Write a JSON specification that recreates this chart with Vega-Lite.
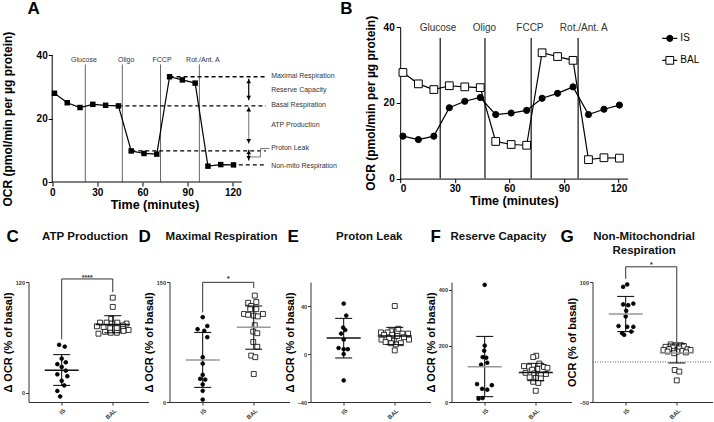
{
"$schema":"https://vega.github.io/schema/vega-lite/v6.json",
"padding":{"left":0.5,"top":0,"right":0,"bottom":0},
"background":"white",
"config":{
 "font":"Liberation Sans",
 "view":{"stroke":null},
 "axis":{"grid":false,"domainColor":"#000","domainWidth":1,"tickColor":"#000","tickWidth":1,"labelColor":"#000","titleColor":"#000","labelFontWeight":"bold","titleFontWeight":"bold","labelFontSize":10,"titleFontSize":12,"tickSize":4,"labelPadding":1,"titlePadding":3}
},
"datasets":{
 "ts":[
  {"t":1.5,"s":"IS","v":11.2},{"t":10,"s":"IS","v":10.3},{"t":18.5,"s":"IS","v":11.2},{"t":27,"s":"IS","v":18.7},{"t":35.5,"s":"IS","v":20.4},{"t":44,"s":"IS","v":21.4},{"t":52.5,"s":"IS","v":16.9},{"t":61,"s":"IS","v":17.3},{"t":69.5,"s":"IS","v":18.0},{"t":78,"s":"IS","v":21.2},{"t":86.5,"s":"IS","v":22.5},{"t":95,"s":"IS","v":24.2},{"t":103.5,"s":"IS","v":16.9},{"t":112,"s":"IS","v":18.3},{"t":120.5,"s":"IS","v":19.4},
  {"t":1.5,"s":"BAL","v":28},{"t":10,"s":"BAL","v":25},{"t":18.5,"s":"BAL","v":23.5},{"t":27,"s":"BAL","v":24.5},{"t":35.5,"s":"BAL","v":24.2},{"t":44,"s":"BAL","v":24},{"t":52.5,"s":"BAL","v":9.8},{"t":61,"s":"BAL","v":9.0},{"t":69.5,"s":"BAL","v":8.8},{"t":78,"s":"BAL","v":33.2},{"t":86.5,"s":"BAL","v":32.2},{"t":95,"s":"BAL","v":31.2},{"t":103.5,"s":"BAL","v":5.0},{"t":112,"s":"BAL","v":5.5},{"t":120.5,"s":"BAL","v":5.4}
 ],
 "inj":[
  {"name":"Glucose","t":22,"la":21.1,"lb":20.8},
  {"name":"Oligo","t":46.6,"la":49.2,"lb":46.3},
  {"name":"FCCP","t":72,"la":73,"lb":71.3},
  {"name":"Rot./Ant. A","t":97.8,"la":100.1,"lb":100.9}
 ],
 "pts":[
  {"p":"C","g":"IS","x":0.95,"v":52},{"p":"C","g":"IS","x":1.06,"v":50},{"p":"C","g":"IS","x":1.0,"v":37},{"p":"C","g":"IS","x":1.08,"v":33},{"p":"C","g":"IS","x":0.915,"v":31},{"p":"C","g":"IS","x":1.0,"v":28},{"p":"C","g":"IS","x":1.08,"v":24},{"p":"C","g":"IS","x":0.915,"v":20},{"p":"C","g":"IS","x":1.11,"v":18},{"p":"C","g":"IS","x":1.0,"v":13},{"p":"C","g":"IS","x":1.05,"v":8},{"p":"C","g":"IS","x":0.915,"v":2},{"p":"C","g":"IS","x":0.97,"v":-4},
  {"p":"C","g":"BAL","x":2.0,"v":103},{"p":"C","g":"BAL","x":2.0,"v":93},{"p":"C","g":"BAL","x":1.97,"v":80},{"p":"C","g":"BAL","x":1.75,"v":76},{"p":"C","g":"BAL","x":1.88,"v":76},{"p":"C","g":"BAL","x":2.09,"v":76},{"p":"C","g":"BAL","x":1.98,"v":75},{"p":"C","g":"BAL","x":2.27,"v":75},{"p":"C","g":"BAL","x":2.2,"v":73},{"p":"C","g":"BAL","x":1.69,"v":72},{"p":"C","g":"BAL","x":1.82,"v":71},{"p":"C","g":"BAL","x":1.95,"v":70},{"p":"C","g":"BAL","x":2.08,"v":70},{"p":"C","g":"BAL","x":2.2,"v":69},{"p":"C","g":"BAL","x":2.31,"v":68},{"p":"C","g":"BAL","x":1.85,"v":66},{"p":"C","g":"BAL","x":1.96,"v":65},{"p":"C","g":"BAL","x":2.08,"v":65},{"p":"C","g":"BAL","x":1.72,"v":64},{"p":"C","g":"BAL","x":2.21,"v":67},
  {"p":"D","g":"IS","x":1.0,"v":106},{"p":"D","g":"IS","x":1.09,"v":95},{"p":"D","g":"IS","x":0.9,"v":91},{"p":"D","g":"IS","x":1.03,"v":89},{"p":"D","g":"IS","x":1.09,"v":81},{"p":"D","g":"IS","x":1.0,"v":56},{"p":"D","g":"IS","x":1.0,"v":48},{"p":"D","g":"IS","x":1.0,"v":34},{"p":"D","g":"IS","x":0.95,"v":29},{"p":"D","g":"IS","x":1.05,"v":28},{"p":"D","g":"IS","x":1.0,"v":22},{"p":"D","g":"IS","x":1.0,"v":14},{"p":"D","g":"IS","x":1.0,"v":3},
  {"p":"D","g":"BAL","x":2.02,"v":133},{"p":"D","g":"BAL","x":2.05,"v":125},{"p":"D","g":"BAL","x":1.89,"v":124},{"p":"D","g":"BAL","x":1.95,"v":120},{"p":"D","g":"BAL","x":1.93,"v":116},{"p":"D","g":"BAL","x":2.05,"v":116},{"p":"D","g":"BAL","x":1.81,"v":110},{"p":"D","g":"BAL","x":1.89,"v":109},{"p":"D","g":"BAL","x":2.0,"v":108},{"p":"D","g":"BAL","x":2.08,"v":107},{"p":"D","g":"BAL","x":2.18,"v":110},{"p":"D","g":"BAL","x":2.02,"v":96},{"p":"D","g":"BAL","x":1.99,"v":88},{"p":"D","g":"BAL","x":2.07,"v":86},{"p":"D","g":"BAL","x":1.99,"v":75},{"p":"D","g":"BAL","x":2.07,"v":69},{"p":"D","g":"BAL","x":1.95,"v":58},{"p":"D","g":"BAL","x":2.03,"v":56},{"p":"D","g":"BAL","x":2.0,"v":35},
  {"p":"E","g":"IS","x":1.0,"v":42},{"p":"E","g":"IS","x":1.05,"v":32},{"p":"E","g":"IS","x":0.99,"v":22},{"p":"E","g":"IS","x":1.03,"v":20},{"p":"E","g":"IS","x":0.95,"v":17},{"p":"E","g":"IS","x":1.0,"v":12},{"p":"E","g":"IS","x":0.9,"v":5},{"p":"E","g":"IS","x":1.0,"v":4},{"p":"E","g":"IS","x":1.08,"v":4},{"p":"E","g":"IS","x":1.0,"v":0},{"p":"E","g":"IS","x":1.0,"v":-22},
  {"p":"E","g":"BAL","x":2.0,"v":40},{"p":"E","g":"BAL","x":2.07,"v":21},{"p":"E","g":"BAL","x":1.93,"v":19},{"p":"E","g":"BAL","x":1.73,"v":18},{"p":"E","g":"BAL","x":1.86,"v":18},{"p":"E","g":"BAL","x":2.15,"v":17},{"p":"E","g":"BAL","x":2.26,"v":17},{"p":"E","g":"BAL","x":1.95,"v":16},{"p":"E","g":"BAL","x":1.79,"v":16},{"p":"E","g":"BAL","x":2.05,"v":15},{"p":"E","g":"BAL","x":2.18,"v":14},{"p":"E","g":"BAL","x":1.89,"v":13},{"p":"E","g":"BAL","x":2.28,"v":12},{"p":"E","g":"BAL","x":1.74,"v":12},{"p":"E","g":"BAL","x":1.99,"v":11},{"p":"E","g":"BAL","x":1.82,"v":10},{"p":"E","g":"BAL","x":1.93,"v":9},{"p":"E","g":"BAL","x":2.12,"v":9},{"p":"E","g":"BAL","x":2.02,"v":8},{"p":"E","g":"BAL","x":2.0,"v":3},
  {"p":"F","g":"IS","x":1.0,"v":418},{"p":"F","g":"IS","x":1.0,"v":201},{"p":"F","g":"IS","x":0.99,"v":183},{"p":"F","g":"IS","x":0.96,"v":160},{"p":"F","g":"IS","x":1.03,"v":158},{"p":"F","g":"IS","x":1.05,"v":140},{"p":"F","g":"IS","x":0.93,"v":133},{"p":"F","g":"IS","x":0.85,"v":64},{"p":"F","g":"IS","x":1.14,"v":60},{"p":"F","g":"IS","x":0.95,"v":47},{"p":"F","g":"IS","x":1.05,"v":44},{"p":"F","g":"IS","x":0.96,"v":14},{"p":"F","g":"IS","x":0.88,"v":12},
  {"p":"F","g":"BAL","x":2.01,"v":165},{"p":"F","g":"BAL","x":1.95,"v":160},{"p":"F","g":"BAL","x":2.07,"v":137},{"p":"F","g":"BAL","x":1.77,"v":128},{"p":"F","g":"BAL","x":1.87,"v":126},{"p":"F","g":"BAL","x":2.16,"v":125},{"p":"F","g":"BAL","x":2.23,"v":122},{"p":"F","g":"BAL","x":2.03,"v":118},{"p":"F","g":"BAL","x":1.93,"v":115},{"p":"F","g":"BAL","x":1.8,"v":104},{"p":"F","g":"BAL","x":1.97,"v":102},{"p":"F","g":"BAL","x":2.2,"v":100},{"p":"F","g":"BAL","x":2.1,"v":98},{"p":"F","g":"BAL","x":1.88,"v":88},{"p":"F","g":"BAL","x":2.0,"v":86},{"p":"F","g":"BAL","x":2.1,"v":84},{"p":"F","g":"BAL","x":1.95,"v":72},{"p":"F","g":"BAL","x":2.05,"v":68},{"p":"F","g":"BAL","x":2.0,"v":40},
  {"p":"G","g":"IS","x":1.03,"v":97},{"p":"G","g":"IS","x":0.95,"v":94},{"p":"G","g":"IS","x":1.15,"v":73},{"p":"G","g":"IS","x":0.95,"v":72},{"p":"G","g":"IS","x":1.05,"v":71},{"p":"G","g":"IS","x":1.01,"v":64},{"p":"G","g":"IS","x":1.0,"v":57},{"p":"G","g":"IS","x":0.86,"v":45},{"p":"G","g":"IS","x":1.03,"v":44},{"p":"G","g":"IS","x":1.15,"v":44},{"p":"G","g":"IS","x":1.11,"v":38},{"p":"G","g":"IS","x":0.93,"v":36},{"p":"G","g":"IS","x":0.97,"v":34},
  {"p":"G","g":"BAL","x":1.88,"v":22},{"p":"G","g":"BAL","x":1.98,"v":21},{"p":"G","g":"BAL","x":2.08,"v":21},{"p":"G","g":"BAL","x":2.14,"v":20},{"p":"G","g":"BAL","x":1.78,"v":19},{"p":"G","g":"BAL","x":1.92,"v":18},{"p":"G","g":"BAL","x":2.05,"v":17},{"p":"G","g":"BAL","x":1.85,"v":16},{"p":"G","g":"BAL","x":2.21,"v":16},{"p":"G","g":"BAL","x":1.74,"v":15},{"p":"G","g":"BAL","x":2.27,"v":15},{"p":"G","g":"BAL","x":1.95,"v":14},{"p":"G","g":"BAL","x":2.11,"v":14},{"p":"G","g":"BAL","x":1.82,"v":13},{"p":"G","g":"BAL","x":2.01,"v":13},{"p":"G","g":"BAL","x":2.18,"v":12},{"p":"G","g":"BAL","x":1.95,"v":11},{"p":"G","g":"BAL","x":1.96,"v":-10},{"p":"G","g":"BAL","x":2.05,"v":-12},{"p":"G","g":"BAL","x":2.0,"v":-23}
 ],
 "sum":[
  {"p":"C","g":"IS","x":1,"m":24.5,"lo":8,"hi":41.3},{"p":"C","g":"BAL","x":2,"m":74,"lo":65,"hi":83.5},
  {"p":"D","g":"IS","x":1,"m":52.5,"lo":18.3,"hi":87},{"p":"D","g":"BAL","x":2,"m":93.3,"lo":66,"hi":120},
  {"p":"E","g":"IS","x":1,"m":13.3,"lo":-3.3,"hi":29.7},{"p":"E","g":"BAL","x":2,"m":15,"lo":7.8,"hi":22.2},
  {"p":"F","g":"IS","x":1,"m":126,"lo":19,"hi":234},{"p":"F","g":"BAL","x":2,"m":105,"lo":76,"hi":138},
  {"p":"G","g":"IS","x":1,"m":60,"lo":38,"hi":82},{"p":"G","g":"BAL","x":2,"m":11.2,"lo":-1.2,"hi":22.5}
 ]
},
"spacing":16,
"vconcat":[
 {"hconcat":[
  {"width":213.3,"height":155,
   "layer":[
    {"data":{"name":"inj"},"mark":{"type":"rule","color":"#666","strokeWidth":1},
     "encoding":{"x":{"field":"t","type":"quantitative"},"y":{"datum":0,"type":"quantitative"},"y2":{"datum":37.1}}},
    {"data":{"name":"inj"},"mark":{"type":"text","fontSize":7,"color":"#333","baseline":"middle"},
     "encoding":{"x":{"field":"la","type":"quantitative"},"y":{"datum":38.4,"type":"quantitative"},"text":{"field":"name"}}},
    {"data":{"values":[{"x1":78,"x2":142,"y":33.2},{"x1":44,"x2":142,"y":24},{"x1":52.5,"x2":142,"y":9.8},{"x1":124,"x2":142.4,"y":5.4}]},
     "mark":{"type":"rule","strokeDash":[4,3],"strokeWidth":1.3,"color":"#000"},
     "encoding":{"x":{"field":"x1","type":"quantitative"},"x2":{"field":"x2"},"y":{"field":"y","type":"quantitative"}}},
    {"data":{"name":"ts"},"transform":[{"filter":"datum.s=='BAL'"}],"mark":{"type":"line","color":"#000","strokeWidth":1.2},
     "encoding":{"x":{"field":"t","type":"quantitative","scale":{"domain":[-15.75,126],"nice":false,"zero":false},"axis":{"values":[0,30,60,90,120],"domain":false,"title":"Time (minutes)","titleFontSize":12.5,"titlePadding":1,"titleX":126}},
      "y":{"field":"v","type":"quantitative","scale":{"domain":[0,48.9],"nice":false,"zero":false},"axis":{"values":[0,10,20,30,40],"domain":false,"offset":-23.7,"title":"OCR (pmol/min per µg protein)","titleY":91.6,"titlePadding":21.6}}}},
    {"data":{"name":"ts"},"transform":[{"filter":"datum.s=='BAL'"}],"mark":{"type":"square","color":"#000","size":30,"opacity":1},
     "encoding":{"x":{"field":"t","type":"quantitative"},"y":{"field":"v","type":"quantitative"}}},
    {"data":{"values":[{}]},"mark":{"type":"rule","color":"#000","strokeWidth":1},
     "encoding":{"x":{"datum":0,"type":"quantitative"},"y":{"datum":0,"type":"quantitative"},"y2":{"datum":40}}},
    {"data":{"values":[{}]},"mark":{"type":"rule","color":"#000","strokeWidth":1},
     "encoding":{"x":{"datum":0,"type":"quantitative"},"x2":{"datum":126},"y":{"datum":0,"type":"quantitative"}}},
    {"data":{"values":[{"a":"RC","y1":32.6,"y2":25.8},{"a":"ATP","y1":23.7,"y2":12.1},{"a":"PL","y1":10.2,"y2":6.8}]},
     "mark":{"type":"rule","strokeWidth":1.2},
     "encoding":{"x":{"datum":130.6,"type":"quantitative"},"y":{"field":"y1","type":"quantitative"},"y2":{"field":"y2"},"color":{"condition":{"test":"datum.a=='ATP'","value":"#888"},"value":"#000"}}},
    {"data":{"values":[{"y1":32.6},{"y1":23.7},{"y1":10.2}]},
     "mark":{"type":"point","shape":"triangle-up","filled":true,"color":"#000","opacity":1,"size":22,"yOffset":2.5},
     "encoding":{"x":{"datum":130.6,"type":"quantitative"},"y":{"field":"y1","type":"quantitative"}}},
    {"data":{"values":[{"y2":25.8},{"y2":12.1},{"y2":6.8}]},
     "mark":{"type":"point","shape":"triangle-down","filled":true,"color":"#000","opacity":1,"size":22,"yOffset":-2.5},
     "encoding":{"x":{"datum":130.6,"type":"quantitative"},"y":{"field":"y2","type":"quantitative"}}},
    {"data":{"values":[{"txt":"Maximal Respiration","y":33.4},{"txt":"Reserve Capacity","y":29},{"txt":"Basal Respiration","y":24.3},{"txt":"ATP Production","y":18.1},{"txt":"Proton Leak","y":10.6},{"txt":"Non-mito Respiration","y":5.2}]},
     "mark":{"type":"text","align":"left","baseline":"middle","fontSize":7,"color":"#333"},
     "encoding":{"x":{"datum":145.5,"type":"quantitative"},"y":{"field":"y","type":"quantitative"},"text":{"field":"txt"}}},
    {"data":{"values":[{"x1":138.4,"x2":144.4,"y1":10.55,"y2":10.55},{"x1":138.4,"x2":138.4,"y1":7.9,"y2":10.55},{"x1":132.2,"x2":138.4,"y1":7.9,"y2":7.9}]},
     "mark":{"type":"rule","color":"#777","strokeWidth":1},
     "encoding":{"x":{"field":"x1","type":"quantitative"},"x2":{"field":"x2"},"y":{"field":"y1","type":"quantitative"},"y2":{"field":"y2"}}},
    {"data":{"values":[{}]},"mark":{"type":"text","text":"A","fontSize":17,"fontWeight":"bold","align":"left","baseline":"middle","color":"#000"},
     "encoding":{"x":{"datum":-16.4,"type":"quantitative"},"y":{"datum":54.5,"type":"quantitative"}}}
   ]},
  {"width":227.4,"height":151.6,
   "layer":[
    {"data":{"name":"inj"},"mark":{"type":"rule","color":"#222","strokeWidth":1.3},
     "encoding":{"x":{"field":"t","type":"quantitative"},"y":{"datum":0,"type":"quantitative"},"y2":{"datum":37.1}}},
    {"data":{"name":"inj"},"mark":{"type":"text","fontSize":10,"color":"#333","baseline":"middle"},
     "encoding":{"x":{"field":"lb","type":"quantitative"},"y":{"datum":39.8,"type":"quantitative"},"text":{"field":"name"}}},
    {"data":{"name":"ts"},"mark":{"type":"line","color":"#000","strokeWidth":1.2},
     "encoding":{"x":{"field":"t","type":"quantitative","scale":{"domain":[0,125],"nice":false,"zero":false},"axis":{"values":[0,30,60,90,120],"title":"Time (minutes)","titleFontSize":12.5,"titlePadding":1}},
      "y":{"field":"v","type":"quantitative","scale":{"domain":[0,40],"nice":false,"zero":false},"axis":{"values":[0,10,20,30,40],"title":"OCR (pmol/min per µg protein)","labelPadding":2,"titlePadding":6}},
      "detail":{"field":"s"}}},
    {"data":{"name":"ts"},"mark":{"type":"point","stroke":"#000","strokeWidth":1,"opacity":1},
     "encoding":{"x":{"field":"t","type":"quantitative"},"y":{"field":"v","type":"quantitative"},
      "shape":{"condition":{"test":"datum.s=='IS'","value":"circle"},"value":"square"},
      "fill":{"condition":{"test":"datum.s=='IS'","value":"#000"},"value":"#fff"},
      "size":{"condition":{"test":"datum.s=='IS'","value":38},"value":60}}},
    {"data":{"values":[{"s":"IS","y":37},{"s":"BAL","y":31.2}]},"mark":{"type":"rule","color":"#000","strokeWidth":1.2},
     "encoding":{"x":{"datum":144,"type":"quantitative"},"x2":{"datum":152.3},"y":{"field":"y","type":"quantitative"}}},
    {"data":{"values":[{"s":"IS","y":37},{"s":"BAL","y":31.2}]},"mark":{"type":"point","stroke":"#000","strokeWidth":1,"opacity":1},
     "encoding":{"x":{"datum":148.2,"type":"quantitative"},"y":{"field":"y","type":"quantitative"},
      "shape":{"condition":{"test":"datum.s=='IS'","value":"circle"},"value":"square"},
      "fill":{"condition":{"test":"datum.s=='IS'","value":"#000"},"value":"#fff"},
      "size":{"condition":{"test":"datum.s=='IS'","value":38},"value":60}}},
    {"data":{"values":[{"s":"IS","y":37},{"s":"BAL","y":31.2}]},"mark":{"type":"text","align":"left","baseline":"middle","fontSize":10,"color":"#000"},
     "encoding":{"x":{"datum":154,"type":"quantitative"},"y":{"field":"y","type":"quantitative"},"text":{"field":"s"}}},
    {"data":{"values":[{}]},"mark":{"type":"text","text":"B","fontSize":17,"fontWeight":"bold","align":"left","baseline":"middle","color":"#000"},
     "encoding":{"x":{"datum":-33,"type":"quantitative"},"y":{"datum":44.7,"type":"quantitative"}}}
   ]}
 ],"spacing":157.7,"bounds":"flush"},
 {"hconcat":[
  {"width":120,"height":120,
   "layer":[
    {"data":{"name":"pts"},"transform":[{"filter":"datum.p=='C'"}],"mark":{"type":"point","stroke":"#000","strokeWidth":0.8,"opacity":1},
     "encoding":{"x":{"field":"x","type":"quantitative","scale":{"domain":[0.35,2.7],"nice":false,"zero":false},"axis":{"values":[1,2],"labelExpr":"datum.value==1?'IS':'BAL'","labelAngle":-45,"title":null,"labelFontSize":6,"tickSize":3,"labelPadding":2,"labelColor":"#333","domainColor":"#333","tickColor":"#333"}},
      "y":{"field":"v","type":"quantitative","scale":{"domain":[-10,120],"nice":false,"zero":false},"axis":{"values":[0,20,40,60,80,100,120],"title":"Δ OCR (% of basal)","labelFontSize":5.5,"tickSize":3,"labelPadding":1,"titleFontSize":11,"titlePadding":2,"labelColor":"#333","domainColor":"#333","tickColor":"#333"}},
      "shape":{"condition":{"test":"datum.g=='IS'","value":"circle"},"value":"square"},
      "fill":{"condition":{"test":"datum.g=='IS'","value":"#000"},"value":"#fff"},
      "size":{"condition":{"test":"datum.g=='IS'","value":14},"value":24}}},
    {"data":{"name":"sum"},"transform":[{"filter":"datum.p=='C'"}],"mark":{"type":"rule","color":"#000","strokeWidth":1},"encoding":{"x":{"field":"x","type":"quantitative"},"y":{"field":"lo","type":"quantitative"},"y2":{"field":"hi"}}},
    {"data":{"name":"sum"},"transform":[{"filter":"datum.p=='C'"}],"mark":{"type":"tick","orient":"horizontal","size":17,"thickness":1,"color":"#000","opacity":1},"encoding":{"x":{"field":"x","type":"quantitative"},"y":{"field":"lo","type":"quantitative"}}},
    {"data":{"name":"sum"},"transform":[{"filter":"datum.p=='C'"}],"mark":{"type":"tick","orient":"horizontal","size":17,"thickness":1,"color":"#000","opacity":1},"encoding":{"x":{"field":"x","type":"quantitative"},"y":{"field":"hi","type":"quantitative"}}},
    {"data":{"name":"sum"},"transform":[{"filter":"datum.p=='C'"}],"mark":{"type":"tick","orient":"horizontal","size":34,"thickness":1.5,"opacity":1,"color":"#111"},"encoding":{"x":{"field":"x","type":"quantitative"},"y":{"field":"m","type":"quantitative"}}},
    {"data":{"values":[{"x1":1,"x2":2,"y1":123.3,"y2":123.3},{"x1":1,"x2":1,"y1":58,"y2":123.3},{"x1":2,"x2":2,"y1":109,"y2":123.3}]},"mark":{"type":"rule","color":"#333","strokeWidth":1},"encoding":{"x":{"field":"x1","type":"quantitative"},"x2":{"field":"x2"},"y":{"field":"y1","type":"quantitative"},"y2":{"field":"y2"}}},
    {"data":{"values":[{}]},"mark":{"type":"text","text":"****","fontSize":7,"fontWeight":"bold","baseline":"middle","color":"#333"},"encoding":{"x":{"datum":1.5,"type":"quantitative"},"y":{"datum":124.7,"type":"quantitative"}}},
    {"data":{"values":[{}]},"mark":{"type":"text","text":"C","fontSize":17,"fontWeight":"bold","align":"left","baseline":"middle","color":"#000"},"encoding":{"x":{"datum":-0.08,"type":"quantitative"},"y":{"datum":168.8,"type":"quantitative"}}},
    {"data":{"values":[{}]},"mark":{"type":"text","text":"ATP Production","fontSize":11.5,"fontWeight":"bold","baseline":"middle","color":"#111"},"encoding":{"x":{"datum":1.457,"type":"quantitative"},"y":{"datum":168.8,"type":"quantitative"}}}
   ]},
  {"width":120,"height":120,
   "layer":[
    {"data":{"name":"pts"},"transform":[{"filter":"datum.p=='D'"}],"mark":{"type":"point","stroke":"#000","strokeWidth":0.8,"opacity":1},
     "encoding":{"x":{"field":"x","type":"quantitative","scale":{"domain":[0.35,2.7],"nice":false,"zero":false},"axis":{"values":[1,2],"labelExpr":"datum.value==1?'IS':'BAL'","labelAngle":-45,"title":null,"labelFontSize":6,"tickSize":3,"labelPadding":2,"labelColor":"#333","domainColor":"#333","tickColor":"#333"}},
      "y":{"field":"v","type":"quantitative","scale":{"domain":[0,150],"nice":false,"zero":false},"axis":{"values":[0,50,100,150],"title":"Δ OCR (% of basal)","labelFontSize":5.5,"tickSize":3,"labelPadding":1,"titleFontSize":11,"titlePadding":2,"labelColor":"#333","domainColor":"#333","tickColor":"#333"}},
      "shape":{"condition":{"test":"datum.g=='IS'","value":"circle"},"value":"square"},
      "fill":{"condition":{"test":"datum.g=='IS'","value":"#000"},"value":"#fff"},
      "size":{"condition":{"test":"datum.g=='IS'","value":14},"value":24}}},
    {"data":{"name":"sum"},"transform":[{"filter":"datum.p=='D'"}],"mark":{"type":"rule","color":"#000","strokeWidth":1},"encoding":{"x":{"field":"x","type":"quantitative"},"y":{"field":"lo","type":"quantitative"},"y2":{"field":"hi"}}},
    {"data":{"name":"sum"},"transform":[{"filter":"datum.p=='D'"}],"mark":{"type":"tick","orient":"horizontal","size":17,"thickness":1,"color":"#000","opacity":1},"encoding":{"x":{"field":"x","type":"quantitative"},"y":{"field":"lo","type":"quantitative"}}},
    {"data":{"name":"sum"},"transform":[{"filter":"datum.p=='D'"}],"mark":{"type":"tick","orient":"horizontal","size":17,"thickness":1,"color":"#000","opacity":1},"encoding":{"x":{"field":"x","type":"quantitative"},"y":{"field":"hi","type":"quantitative"}}},
    {"data":{"name":"sum"},"transform":[{"filter":"datum.p=='D'"}],"mark":{"type":"tick","orient":"horizontal","size":34,"thickness":1.5,"opacity":1,"color":"#999"},"encoding":{"x":{"field":"x","type":"quantitative"},"y":{"field":"m","type":"quantitative"}}},
    {"data":{"values":[{"x1":1,"x2":2,"y1":149.6,"y2":149.6},{"x1":1,"x2":1,"y1":112,"y2":149.6},{"x1":2,"x2":2,"y1":142.5,"y2":149.6}]},"mark":{"type":"rule","color":"#333","strokeWidth":1},"encoding":{"x":{"field":"x1","type":"quantitative"},"x2":{"field":"x2"},"y":{"field":"y1","type":"quantitative"},"y2":{"field":"y2"}}},
    {"data":{"values":[{}]},"mark":{"type":"text","text":"*","fontSize":8,"fontWeight":"bold","baseline":"middle","color":"#333"},"encoding":{"x":{"datum":1.5,"type":"quantitative"},"y":{"datum":153.75,"type":"quantitative"}}},
    {"data":{"values":[{}]},"mark":{"type":"text","text":"D","fontSize":17,"fontWeight":"bold","align":"left","baseline":"middle","color":"#000"},"encoding":{"x":{"datum":-0.257,"type":"quantitative"},"y":{"datum":206.3,"type":"quantitative"}}},
    {"data":{"values":[{}]},"mark":{"type":"text","text":"Maximal Respiration","fontSize":11.5,"fontWeight":"bold","baseline":"middle","color":"#111"},"encoding":{"x":{"datum":1.368,"type":"quantitative"},"y":{"datum":206.3,"type":"quantitative"}}}
   ]},
  {"width":120,"height":120,
   "layer":[
    {"data":{"name":"pts"},"transform":[{"filter":"datum.p=='E'"}],"mark":{"type":"point","stroke":"#000","strokeWidth":0.8,"opacity":1},
     "encoding":{"x":{"field":"x","type":"quantitative","scale":{"domain":[0.35,2.7],"nice":false,"zero":false},"axis":{"values":[1,2],"labelExpr":"datum.value==1?'IS':'BAL'","labelAngle":-45,"title":null,"labelFontSize":6,"tickSize":3,"labelPadding":2,"labelColor":"#333","domainColor":"#333","tickColor":"#333"}},
      "y":{"field":"v","type":"quantitative","scale":{"domain":[-40,60],"nice":false,"zero":false},"axis":{"values":[-40,-20,0,20,40,60],"title":"Δ OCR (% of basal)","labelFontSize":5.5,"tickSize":3,"labelPadding":1,"titleFontSize":11,"titlePadding":2,"labelColor":"#333","domainColor":"#333","tickColor":"#333"}},
      "shape":{"condition":{"test":"datum.g=='IS'","value":"circle"},"value":"square"},
      "fill":{"condition":{"test":"datum.g=='IS'","value":"#000"},"value":"#fff"},
      "size":{"condition":{"test":"datum.g=='IS'","value":14},"value":24}}},
    {"data":{"name":"sum"},"transform":[{"filter":"datum.p=='E'"}],"mark":{"type":"rule","color":"#000","strokeWidth":1},"encoding":{"x":{"field":"x","type":"quantitative"},"y":{"field":"lo","type":"quantitative"},"y2":{"field":"hi"}}},
    {"data":{"name":"sum"},"transform":[{"filter":"datum.p=='E'"}],"mark":{"type":"tick","orient":"horizontal","size":17,"thickness":1,"color":"#000","opacity":1},"encoding":{"x":{"field":"x","type":"quantitative"},"y":{"field":"lo","type":"quantitative"}}},
    {"data":{"name":"sum"},"transform":[{"filter":"datum.p=='E'"}],"mark":{"type":"tick","orient":"horizontal","size":17,"thickness":1,"color":"#000","opacity":1},"encoding":{"x":{"field":"x","type":"quantitative"},"y":{"field":"hi","type":"quantitative"}}},
    {"data":{"name":"sum"},"transform":[{"filter":"datum.p=='E'"}],"mark":{"type":"tick","orient":"horizontal","size":34,"thickness":1.5,"opacity":1,"color":"#111"},"encoding":{"x":{"field":"x","type":"quantitative"},"y":{"field":"m","type":"quantitative"}}},
    {"data":{"values":[{}]},"mark":{"type":"text","text":"E","fontSize":17,"fontWeight":"bold","align":"left","baseline":"middle","color":"#000"},"encoding":{"x":{"datum":-0.1,"type":"quantitative"},"y":{"datum":97.5,"type":"quantitative"}}},
    {"data":{"values":[{}]},"mark":{"type":"text","text":"Proton Leak","fontSize":11.5,"fontWeight":"bold","baseline":"middle","color":"#111"},"encoding":{"x":{"datum":1.5,"type":"quantitative"},"y":{"datum":97.5,"type":"quantitative"}}}
   ]},
  {"width":120,"height":120,
   "layer":[
    {"data":{"name":"pts"},"transform":[{"filter":"datum.p=='F'"}],"mark":{"type":"point","stroke":"#000","strokeWidth":0.8,"opacity":1},
     "encoding":{"x":{"field":"x","type":"quantitative","scale":{"domain":[0.35,2.7],"nice":false,"zero":false},"axis":{"values":[1,2],"labelExpr":"datum.value==1?'IS':'BAL'","labelAngle":-45,"title":null,"labelFontSize":6,"tickSize":3,"labelPadding":2,"labelColor":"#333","domainColor":"#333","tickColor":"#333"}},
      "y":{"field":"v","type":"quantitative","scale":{"domain":[0,428],"nice":false,"zero":false},"axis":{"values":[0,100,200,300,400],"title":"Δ OCR (% of basal)","labelFontSize":5.5,"tickSize":3,"labelPadding":1,"titleFontSize":11,"titlePadding":2,"labelColor":"#333","domainColor":"#333","tickColor":"#333"}},
      "shape":{"condition":{"test":"datum.g=='IS'","value":"circle"},"value":"square"},
      "fill":{"condition":{"test":"datum.g=='IS'","value":"#000"},"value":"#fff"},
      "size":{"condition":{"test":"datum.g=='IS'","value":14},"value":24}}},
    {"data":{"name":"sum"},"transform":[{"filter":"datum.p=='F'"}],"mark":{"type":"rule","color":"#000","strokeWidth":1},"encoding":{"x":{"field":"x","type":"quantitative"},"y":{"field":"lo","type":"quantitative"},"y2":{"field":"hi"}}},
    {"data":{"name":"sum"},"transform":[{"filter":"datum.p=='F'"}],"mark":{"type":"tick","orient":"horizontal","size":17,"thickness":1,"color":"#000","opacity":1},"encoding":{"x":{"field":"x","type":"quantitative"},"y":{"field":"lo","type":"quantitative"}}},
    {"data":{"name":"sum"},"transform":[{"filter":"datum.p=='F'"}],"mark":{"type":"tick","orient":"horizontal","size":17,"thickness":1,"color":"#000","opacity":1},"encoding":{"x":{"field":"x","type":"quantitative"},"y":{"field":"hi","type":"quantitative"}}},
    {"data":{"name":"sum"},"transform":[{"filter":"datum.p=='F'"}],"mark":{"type":"tick","orient":"horizontal","size":34,"thickness":1.5,"opacity":1},"encoding":{"x":{"field":"x","type":"quantitative"},"y":{"field":"m","type":"quantitative"},"color":{"condition":{"test":"datum.g=='IS'","value":"#999"},"value":"#111"}}},
    {"data":{"values":[{}]},"mark":{"type":"text","text":"F","fontSize":17,"fontWeight":"bold","align":"left","baseline":"middle","color":"#000"},"encoding":{"x":{"datum":-0.061,"type":"quantitative"},"y":{"datum":588.5,"type":"quantitative"}}},
    {"data":{"values":[{}]},"mark":{"type":"text","text":"Reserve Capacity","fontSize":11.5,"fontWeight":"bold","baseline":"middle","color":"#111"},"encoding":{"x":{"datum":1.27,"type":"quantitative"},"y":{"datum":588.5,"type":"quantitative"}}}
   ]},
  {"width":120,"height":120,
   "layer":[
    {"data":{"values":[{}]},"mark":{"type":"rule","strokeDash":[1,1.5],"color":"#333","strokeWidth":0.8},"encoding":{"x":{"datum":0.35,"type":"quantitative"},"x2":{"datum":2.7},"y":{"datum":0,"type":"quantitative"}}},
    {"data":{"name":"pts"},"transform":[{"filter":"datum.p=='G'"}],"mark":{"type":"point","stroke":"#000","strokeWidth":0.8,"opacity":1},
     "encoding":{"x":{"field":"x","type":"quantitative","scale":{"domain":[0.35,2.7],"nice":false,"zero":false},"axis":{"values":[1,2],"labelExpr":"datum.value==1?'IS':'BAL'","labelAngle":-45,"title":null,"labelFontSize":6,"tickSize":3,"labelPadding":2,"labelColor":"#333","domainColor":"#333","tickColor":"#333"}},
      "y":{"field":"v","type":"quantitative","scale":{"domain":[-50,100],"nice":false,"zero":false},"axis":{"values":[-50,0,50,100],"title":"OCR (% of basal)","labelFontSize":5.5,"tickSize":3,"labelPadding":1,"titleFontSize":11,"titlePadding":2,"labelColor":"#333","domainColor":"#333","tickColor":"#333"}},
      "shape":{"condition":{"test":"datum.g=='IS'","value":"circle"},"value":"square"},
      "fill":{"condition":{"test":"datum.g=='IS'","value":"#000"},"value":"#fff"},
      "size":{"condition":{"test":"datum.g=='IS'","value":14},"value":24}}},
    {"data":{"name":"sum"},"transform":[{"filter":"datum.p=='G'"}],"mark":{"type":"rule","color":"#000","strokeWidth":1},"encoding":{"x":{"field":"x","type":"quantitative"},"y":{"field":"lo","type":"quantitative"},"y2":{"field":"hi"}}},
    {"data":{"name":"sum"},"transform":[{"filter":"datum.p=='G'"}],"mark":{"type":"tick","orient":"horizontal","size":17,"thickness":1,"color":"#000","opacity":1},"encoding":{"x":{"field":"x","type":"quantitative"},"y":{"field":"lo","type":"quantitative"}}},
    {"data":{"name":"sum"},"transform":[{"filter":"datum.p=='G'"}],"mark":{"type":"tick","orient":"horizontal","size":17,"thickness":1,"color":"#000","opacity":1},"encoding":{"x":{"field":"x","type":"quantitative"},"y":{"field":"hi","type":"quantitative"}}},
    {"data":{"name":"sum"},"transform":[{"filter":"datum.p=='G'"}],"mark":{"type":"tick","orient":"horizontal","size":34,"thickness":1.5,"opacity":1,"color":"#999"},"encoding":{"x":{"field":"x","type":"quantitative"},"y":{"field":"m","type":"quantitative"}}},
    {"data":{"values":[{"x1":1,"x2":2,"y1":119,"y2":119},{"x1":1,"x2":1,"y1":104,"y2":119},{"x1":2,"x2":2,"y1":25,"y2":119}]},"mark":{"type":"rule","color":"#333","strokeWidth":1},"encoding":{"x":{"field":"x1","type":"quantitative"},"x2":{"field":"x2"},"y":{"field":"y1","type":"quantitative"},"y2":{"field":"y2"}}},
    {"data":{"values":[{}]},"mark":{"type":"text","text":"*","fontSize":8,"fontWeight":"bold","baseline":"middle","color":"#333"},"encoding":{"x":{"datum":1.5,"type":"quantitative"},"y":{"datum":121.5,"type":"quantitative"}}},
    {"data":{"values":[{}]},"mark":{"type":"text","text":"G","fontSize":17,"fontWeight":"bold","align":"left","baseline":"middle","color":"#000"},"encoding":{"x":{"datum":-0.277,"type":"quantitative"},"y":{"datum":156.25,"type":"quantitative"}}},
    {"data":{"values":[{}]},"mark":{"type":"text","text":["Non-Mitochondrial","Respiration"],"lineHeight":14,"fontSize":11.5,"fontWeight":"bold","baseline":"middle","color":"#111"},"encoding":{"x":{"datum":1.36,"type":"quantitative"},"y":{"datum":156.25,"type":"quantitative"}}}
   ]}
 ],"spacing":21,"bounds":"flush"}
]
}
